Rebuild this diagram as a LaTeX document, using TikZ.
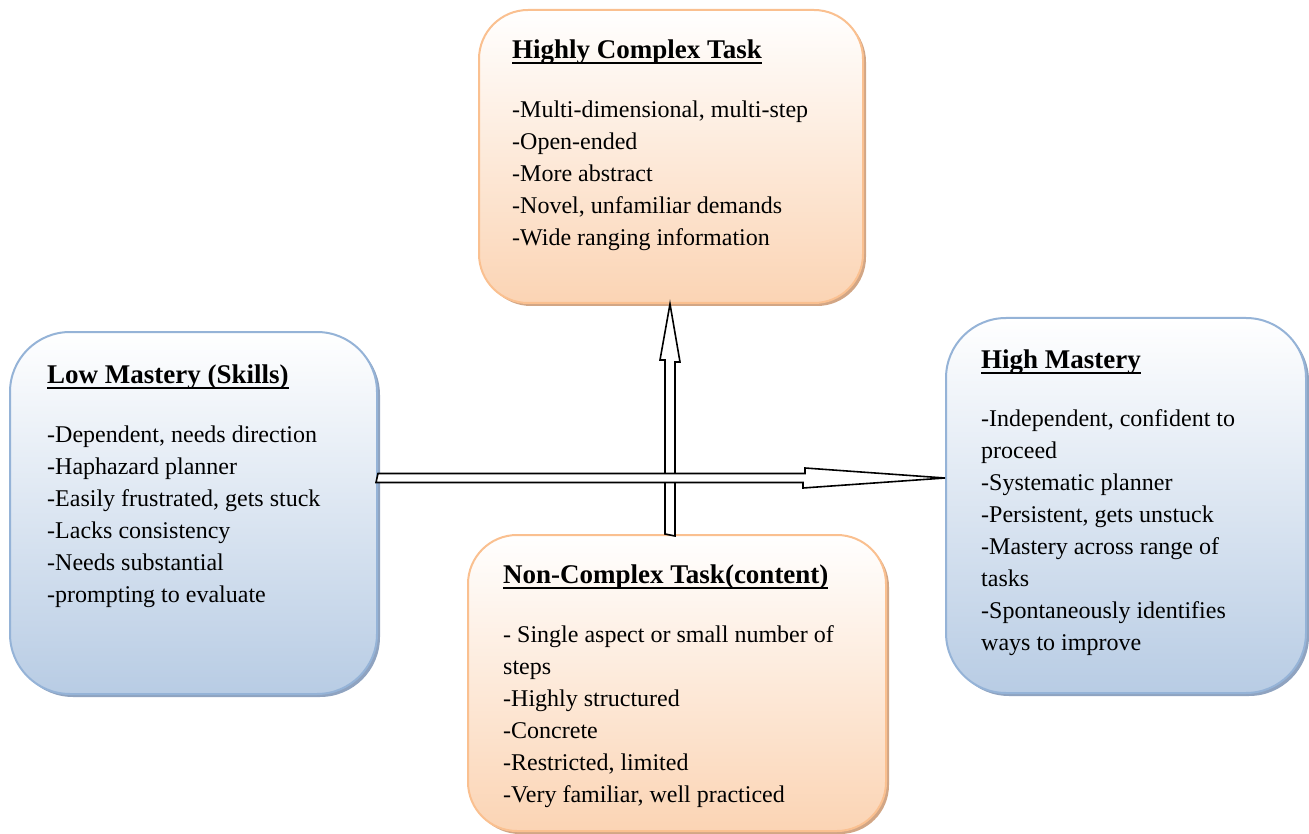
\documentclass[tikz,border=0pt]{standalone}
\usepackage{fontspec}
\setmainfont{Liberation Serif}
\usetikzlibrary{shadows}

\definecolor{peachline}{HTML}{FAC090}
\definecolor{peachfill}{HTML}{FBD4B4}
\definecolor{peachshadow}{HTML}{D2A685}
\definecolor{blueline}{HTML}{95B3D7}
\definecolor{bluefill}{HTML}{B8CCE4}
\definecolor{blueshadow}{HTML}{8FA3C0}

\newcommand{\ulhead}[1]{\setbox0\hbox{#1}\rlap{\rule[-5.5pt]{\wd0}{2pt}}\box0}

\begin{document}
\begin{tikzpicture}[
    x = 1pt, y = -1pt,
    every node/.style = {inner sep = 0pt},
    box/.style = {draw, line width = 2pt, anchor = north west},
    taskbox/.style = {box, draw = peachline, top color = white, bottom color = peachfill,
        rounded corners = 49pt,
        drop shadow = {shadow xshift = 3pt, shadow yshift = -3pt, fill = peachshadow, opacity = 1}},
    skillbox/.style = {box, draw = blueline, top color = white, bottom color = bluefill,
        rounded corners = 60pt,
        drop shadow = {shadow xshift = 3pt, shadow yshift = -3pt, fill = blueshadow, opacity = 1}},
    heading/.style = {anchor = base west, font = \fontsize{27}{32}\selectfont\bfseries},
    points/.style = {anchor = base west, align = left, font = \fontsize{24}{32}\selectfont},
    blockarrow/.style = {draw = black, fill = white, line width = 1.6pt, line join = miter}]

\useasboundingbox (0,0) rectangle (1309,834);

\node[taskbox, minimum width = 384pt, minimum height = 293pt] (hct) at (478,9) {};
\node[taskbox, minimum width = 418pt, minimum height = 296pt] (nct) at (467,534) {};
\node[skillbox, minimum width = 367pt, minimum height = 362pt] (lm) at (9,331) {};
\node[skillbox, minimum width = 360pt, minimum height = 375pt] (hm) at (945,317) {};

% body nodes sit on the baseline of their last line
\path (512,59) node[heading] (hcthead) {\ulhead{Highly Complex Task}}
      (512,246) node[points] (hcttext) {-Multi-dimensional, multi-step\\
          -Open-ended\\-More abstract\\-Novel, unfamiliar demands\\
          -Wide ranging information}
      (503,583) node[heading] (ncthead) {\ulhead{Non-Complex Task(content)}}
      (503,802) node[points] (ncttext) {- Single aspect or small number of\\steps\\
          -Highly structured\\-Concrete\\-Restricted, limited\\
          -Very familiar, well practiced}
      (47,383) node[heading] (lmhead) {\ulhead{Low Mastery (Skills)}}
      (47,602) node[points] (lmtext) {-Dependent, needs direction\\-Haphazard planner\\
          -Easily frustrated, gets stuck\\-Lacks consistency\\
          -Needs substantial\\-prompting to evaluate}
      (981,368) node[heading] (hmhead) {\ulhead{High Mastery}}
      (981,650) node[points] (hmtext) {-Independent, confident to\\proceed\\
          -Systematic planner\\-Persistent, gets unstuck\\
          -Mastery across range of\\tasks\\-Spontaneously identifies\\
          ways to improve}
      ;

\coordinate (vfrom) at (nct.north -| 670,0);
\coordinate (vto) at (hct.south -| 670,0);
\coordinate (hfrom) at (lm.east |- 0,478);
\coordinate (hto) at (hm.west |- 0,478);

\draw[blockarrow] (vfrom) ++(-5,0) -- ++(0,-174) -- ++(-5,0) -- (vto)
      -- ++(10,58) -- ++(-5,0) -- ++(0,174) -- cycle;
\draw[blockarrow] (hfrom) ++(0,-4.5) -- ++(427,0) -- ++(0,-5.5) -- (hto)
      -- ++(-142,10) -- ++(0,-5.5) -- ++(-427,0) -- cycle;
\end{tikzpicture}
\end{document}
